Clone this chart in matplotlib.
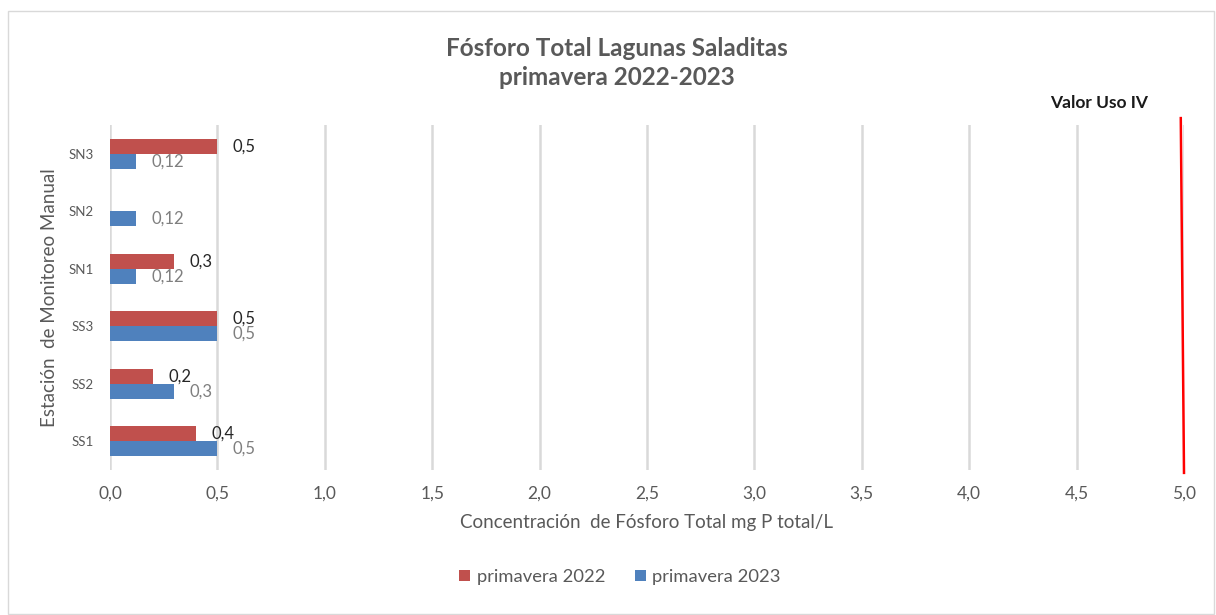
import numpy as np
import matplotlib
matplotlib.use("Agg")
import matplotlib.pyplot as plt
from matplotlib.patches import Rectangle

plt.rcParams['font.family'] = ['Lato', 'DejaVu Sans']

stations = ["SS1", "SS2", "SS3", "SN1", "SN2", "SN3"]
p2022 = [0.4, 0.2, 0.5, 0.3, np.nan, 0.5]
p2023 = [0.5, 0.3, 0.5, 0.12, 0.12, 0.12]
lbl2022 = ["0,4", "0,2", "0,5", "0,3", "", "0,5"]
lbl2023 = ["0,5", "0,3", "0,5", "0,12", "0,12", "0,12"]
xticks = [0.0, 0.5, 1.0, 1.5, 2.0, 2.5, 3.0, 3.5, 4.0, 4.5, 5.0]
limit_value = 5.0

c22 = "#C0504D"
c23 = "#4F81BD"
gray = "#595959"

fig = plt.figure(figsize=(12.16, 6.15), dpi=100)
ax = fig.add_axes([110/1216, 1-470/615, (1184-110)/1216, (470-125)/615])

y = np.arange(len(stations))
h = 0.265
ax.barh(y + h/2, p2022, height=h, color=c22, label="primavera 2022", zorder=3)
ax.barh(y - h/2, p2023, height=h, color=c23, label="primavera 2023", zorder=3)

for i in range(len(stations)):
    if not np.isnan(p2022[i]):
        ax.annotate(lbl2022[i], (p2022[i], y[i] + h/2), xytext=(11, 0), textcoords="offset points",
                    ha="left", va="center", fontsize=12, color="#262626", zorder=4)
    ax.annotate(lbl2023[i], (p2023[i], y[i] - h/2), xytext=(11, 0), textcoords="offset points",
                ha="left", va="center", fontsize=12, color="#7F7F7F", zorder=4)

ax.set_xlim(0, 5.0)
ax.set_ylim(-0.5, len(stations) - 0.5)
ax.set_xticks(xticks)
ax.set_xticklabels([f"{v:.1f}".replace(".", ",") for v in xticks], fontsize=12.5, color=gray)
ax.set_yticks(y)
ax.set_yticklabels(stations, fontsize=9.5, color=gray)
ax.tick_params(axis="both", length=0)
ax.tick_params(axis="x", pad=11)
ax.tick_params(axis="y", pad=12)
for s in ax.spines.values():
    s.set_visible(False)
ax.grid(axis="x", color="#D9D9D9", linewidth=1.8, zorder=0)
ax.set_axisbelow(True)

ax.plot([limit_value - 0.015, limit_value], [5.62, -0.55], color="#FF0000", linewidth=1.8,
        clip_on=False, zorder=5)
ax.text(4.605, 5.88, "Valor Uso IV", fontsize=12.5, fontweight="bold", color="#1a1a1a",
        ha="center", va="center")

ax.set_xlabel("Concentración  de Fósforo Total mg P total/L", fontsize=13.5, color=gray, labelpad=9)
ax.set_ylabel("Estación  de Monitoreo Manual", fontsize=13.5, color=gray, labelpad=7)

fig.text(617/1216, 1-63/615, "Fósforo Total Lagunas Saladitas\nprimavera 2022-2023", ha="center",
         va="center", fontsize=17.5, fontweight="bold", color=gray, linespacing=1.3)

fig.legend(loc="center", bbox_to_anchor=(620/1216, 1-577/615), ncol=2, frameon=False,
           fontsize=13.2, handlelength=0.6, handleheight=0.6, columnspacing=1.6, handletextpad=0.35,
           labelcolor=gray)

fig.patches.append(Rectangle((8/1216, 0.002), 1-10/1216, 1-12/615, transform=fig.transFigure,
                             fill=False, edgecolor="#D9D9D9", linewidth=1))

fig.savefig("out.png", dpi=100, facecolor="white")
